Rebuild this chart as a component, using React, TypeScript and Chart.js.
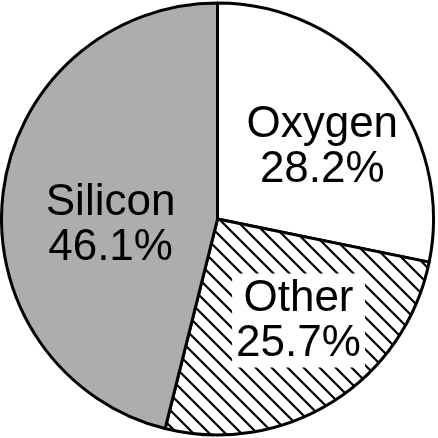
import React, { useEffect, useRef } from "react";
import { Chart, registerables } from "chart.js";

Chart.register(...registerables);

const categories = ["Oxygen", "Other", "Silicon"];
const percentValues = [28.2, 25.7, 46.1];
const percentLabels = ["28.2%", "25.7%", "46.1%"];

function makeHatch(): CanvasPattern | string {
  const c = document.createElement("canvas");
  const s = 16;
  c.width = s;
  c.height = s;
  const g = c.getContext("2d");
  if (!g) return "#ffffff";
  g.fillStyle = "#ffffff";
  g.fillRect(0, 0, s, s);
  g.strokeStyle = "#000000";
  g.lineWidth = 2.2;
  g.beginPath();
  for (const o of [-s, 0, s]) {
    g.moveTo(o - 1, -1);
    g.lineTo(o + s + 1, s + 1);
  }
  g.stroke();
  const p = g.createPattern(c, "repeat");
  return p || "#ffffff";
}

const labelPlugin = {
  id: "sliceLabels",
  afterDatasetsDraw(chart: any) {
    const meta = chart.getDatasetMeta(0);
    const ctx = chart.ctx as CanvasRenderingContext2D;
    const offsets: { [k: string]: [number, number, boolean] } = {
      Oxygen: [0.485, -0.335, false],
      Other: [0.375, 0.47, true],
      Silicon: [-0.495, 0.028, false],
    };
    ctx.save();
    ctx.font = '44px "Liberation Sans", Arial, sans-serif';
    ctx.textAlign = "center";
    ctx.textBaseline = "middle";
    meta.data.forEach((arc: any, i: number) => {
      const name = categories[i];
      const [fx, fy, box] = offsets[name];
      const r = arc.outerRadius;
      const cx = arc.x + fx * r;
      const cy = arc.y + fy * r;
      const l1 = name;
      const l2 = percentLabels[i];
      if (box) {
        const w = Math.max(ctx.measureText(l1).width, ctx.measureText(l2).width) + 8;
        ctx.fillStyle = "#ffffff";
        ctx.fillRect(cx - w / 2, cy - 47, w, 94);
      }
      ctx.fillStyle = "#000000";
      ctx.fillText(l1, cx, cy - 22);
      ctx.fillText(l2, cx, cy + 23);
    });
    ctx.restore();
  },
};

export default function App() {
  const ref = useRef<HTMLCanvasElement>(null);
  useEffect(() => {
    if (!ref.current) return;
    const hatch = makeHatch();
    const chart = new Chart(ref.current, {
      type: "pie",
      data: {
        labels: categories,
        datasets: [
          {
            data: percentValues,
            backgroundColor: ["#ffffff", hatch as any, "#adadad"],
            borderColor: "#000000",
            borderWidth: 3,
          },
        ],
      },
      options: {
        responsive: false,
        animation: false,
        events: [],
        layout: { padding: { right: 3, top: 0, bottom: 0, left: 0 } },
        plugins: {
          legend: { display: false },
          tooltip: { enabled: false },
        },
      },
      plugins: [labelPlugin],
    });
    return () => chart.destroy();
  }, []);
  return (
    <div style={{ position: "absolute", left: 0, top: 0, width: 438, height: 438, background: "#ffffff" }}>
      <canvas ref={ref} width={438} height={438} style={{ width: 438, height: 438 }} />
    </div>
  );
}
